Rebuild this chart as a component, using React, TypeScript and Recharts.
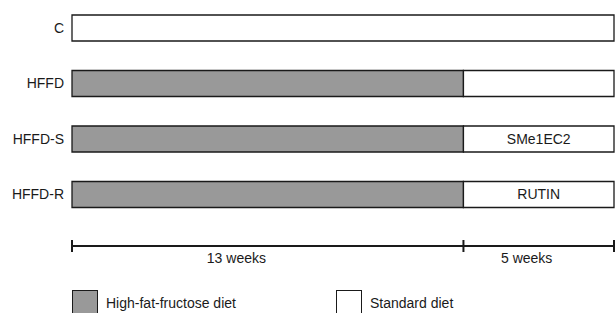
import { Bar, BarChart, LabelList, Legend, XAxis, YAxis } from "recharts";

const groups = ["C", "HFFD", "HFFD-S", "HFFD-R"];
const hffdWeeks = [0, 13, 13, 13];
const standardWeeks = [18, 5, 5, 5];
const treatments = ["", "", "SMe1EC2", "RUTIN"];

const phaseBounds = [0, 13, 18];
const phaseLabels = ["13 weeks", "5 weeks"];

const font = "'Liberation Sans', Arial, sans-serif";
const ink = "#1a1a1a";
const gray = "#999999";

const data = groups.map((group, i) => ({
  group,
  hffd: hffdWeeks[i],
  standard: standardWeeks[i],
  treatment: treatments[i],
}));

// label sits a bit left of each phase's middle, as in the figure
const labelTicks = phaseLabels.map((_, i) => phaseBounds[i] + (phaseBounds[i + 1] - phaseBounds[i]) * 0.42);

function TimelineTick({ x, y, payload }: any) {
  const idx = labelTicks.indexOf(payload.value);
  if (idx >= 0) {
    return (
      <text x={x} y={y + 7} dy="0.71em" textAnchor="middle" fontSize={14} fill={ink} fontFamily={font}>
        {phaseLabels[idx]}
      </text>
    );
  }
  return <line x1={x} x2={x} y1={y - 6} y2={y + 6} stroke={ink} strokeWidth={2} />;
}

function DietLegend({ payload }: any) {
  return (
    <div style={{ display: "flex", paddingLeft: 72, fontFamily: font, fontSize: 14, color: ink }}>
      {(payload || []).map((item: any) => (
        <div key={item.value} style={{ display: "flex", alignItems: "center", width: 264 }}>
          <span
            style={{
              display: "inline-block",
              width: 24,
              height: 24,
              background: item.color,
              border: `1.3px solid ${ink}`,
              marginRight: 8,
            }}
          />
          <span>{item.value}</span>
        </div>
      ))}
    </div>
  );
}

export default function App() {
  return (
    <div style={{ position: "absolute", left: 0, top: 0, width: 615, height: 313, overflow: "hidden", background: "#fff" }}>
      <BarChart
        width={615}
        height={330}
        data={data}
        layout="vertical"
        margin={{ top: 0, right: 1, bottom: 14, left: 0 }}
      >
        <YAxis
          type="category"
          dataKey="group"
          width={72}
          axisLine={false}
          tickLine={false}
          padding={{ top: 0, bottom: 24 }}
          tick={{ fontSize: 14, fill: ink, fontFamily: font }}
        />
        <XAxis
          type="number"
          domain={[0, 18]}
          ticks={[...phaseBounds, ...labelTicks]}
          interval={0}
          height={44}
          tickSize={0}
          tickMargin={0}
          tickLine={false}
          axisLine={{ stroke: ink, strokeWidth: 2 }}
          tick={<TimelineTick />}
        />
        <Legend verticalAlign="bottom" align="left" height={26} content={<DietLegend />} />
        <Bar dataKey="hffd" name="High-fat-fructose diet" stackId="diet" fill={gray} stroke={ink} strokeWidth={1.3} barSize={26} isAnimationActive={false} />
        <Bar dataKey="standard" name="Standard diet" stackId="diet" fill="#ffffff" stroke={ink} strokeWidth={1.3} barSize={26} isAnimationActive={false}>
          <LabelList dataKey="treatment" position="center" fill={ink} fontSize={14} fontFamily={font} />
        </Bar>
      </BarChart>
    </div>
  );
}
